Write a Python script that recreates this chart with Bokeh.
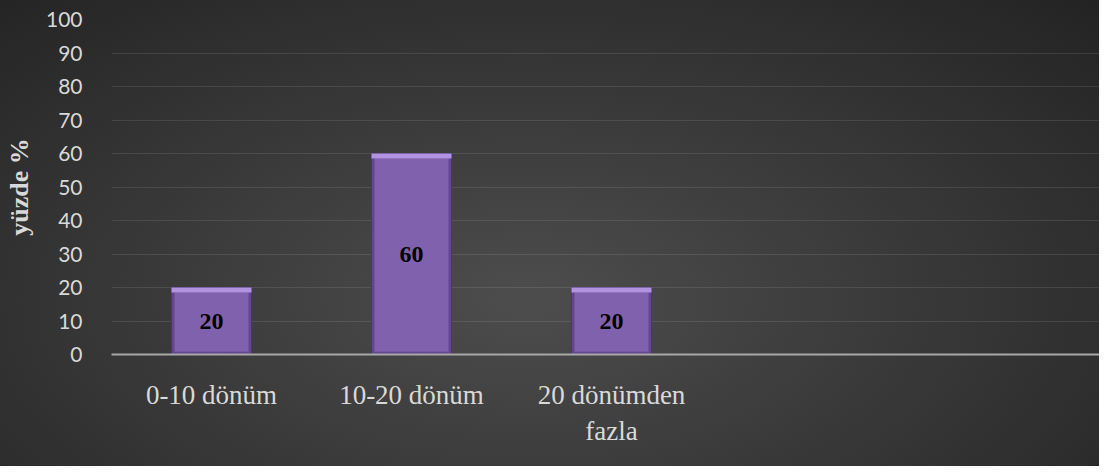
from bokeh.plotting import figure
from bokeh.models import Range1d, FixedTicker, ColumnDataSource
from bokeh.core.properties import value
from bokeh.embed import file_html
from bokeh.resources import INLINE

categories = ["0-10 dönüm", "10-20 dönüm", "20 dönümden\nfazla"]
percent = [20, 60, 20]
y_ticks = [0, 10, 20, 30, 40, 50, 60, 70, 80, 90, 100]
y_title = "yüzde %"

xs = list(range(len(categories)))
src = ColumnDataSource(dict(
    x=xs,
    top=percent,
    bevel_bottom=[v - 1.5 for v in percent],
    mid=[v / 2 for v in percent],
    label=[str(v) for v in percent],
))

p = figure(width=1099, height=466, output_backend="svg", toolbar_location=None,
           x_range=Range1d(-0.5, 4.44), y_range=Range1d(0, 100),
           min_border_left=111, min_border_right=0, min_border_top=19, min_border_bottom=112)

p.border_fill_color = None
p.background_fill_color = None
p.outline_line_color = None
p.styles = {"background": "radial-gradient(ellipse farthest-corner at 48% 64%, #4d4d4d 0%, #3a3a3a 45%, #232323 100%)"}

# bars: darker bevel edges, lighter top bevel, flat face
p.vbar(x="x", top="top", bottom=0, width=0.4, source=src,
       fill_color="#64468e", line_color="#4e3475", line_width=1)
p.vbar(x="x", top="bevel_bottom", bottom=0.8, width=0.37, source=src,
       fill_color="#8061ad", line_color=None)
p.vbar(x="x", top="top", bottom="bevel_bottom", width=0.4, source=src,
       fill_color="#b293e2", line_color=None)

p.text(x="x", y="mid", text="label", source=src,
       text_align="center", text_baseline="middle",
       text_font=value("Liberation Serif"), text_font_style="bold",
       text_font_size="24px", text_color="black")

# axes
p.xaxis.ticker = FixedTicker(ticks=xs)
p.xaxis.major_label_overrides = {i: c for i, c in zip(xs, categories)}
p.xaxis.axis_line_color = "#a8a8a8"
p.xaxis.axis_line_width = 2
p.xaxis.major_tick_line_color = None
p.xaxis.minor_tick_line_color = None
p.xaxis.major_label_standoff = 19
p.xaxis.major_label_text_font = "Liberation Serif"
p.xaxis.major_label_text_font_size = "27px"
p.xaxis.major_label_text_color = "#d9d9d9"

p.yaxis.ticker = FixedTicker(ticks=y_ticks)
p.yaxis.axis_line_color = None
p.yaxis.major_tick_line_color = None
p.yaxis.minor_tick_line_color = None
p.yaxis.major_label_standoff = 23
p.yaxis.major_label_text_font = "Lato"
p.yaxis.major_label_text_font_size = "21px"
p.yaxis.major_label_text_color = "#d9d9d9"
p.yaxis.axis_label = y_title
p.yaxis.axis_label_standoff = 9
p.yaxis.axis_label_text_font = "Liberation Serif"
p.yaxis.axis_label_text_font_style = "bold"
p.yaxis.axis_label_text_font_size = "26px"
p.yaxis.axis_label_text_color = "#d9d9d9"

p.xgrid.grid_line_color = None
p.ygrid.grid_line_color = "white"
p.ygrid.grid_line_alpha = 0.1

open("out.html", "w").write(file_html(p, INLINE))
